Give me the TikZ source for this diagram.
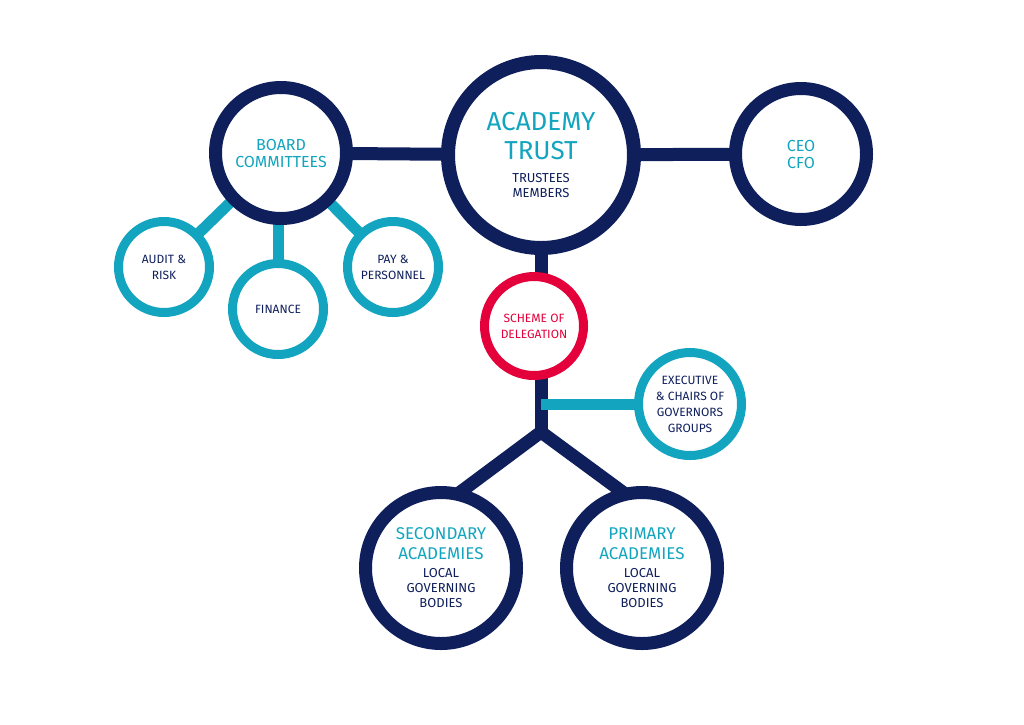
\documentclass[tikz,border=0pt]{standalone}
\usepackage{fontspec}
\setmainfont{Fira Sans}
\usetikzlibrary{backgrounds}
\definecolor{navy}{HTML}{0F1F5C}
\definecolor{teal}{HTML}{13A5BF}
\definecolor{red}{HTML}{E4003A}
\newcommand\bigt[2]{{\color{teal}\fontsize{#1}{#1}\selectfont #2}}
\newcommand\smt[1]{{\color{navy}\fontsize{13}{15}\selectfont #1}}
\tikzset{
 bub/.style n args={2}{circle,draw=navy,fill=white,line width=#2pt,inner sep=0pt,minimum size=#1pt,align=center,text=navy,font=\fontsize{13}{15}\selectfont},
 tbub/.style={circle,draw=teal,fill=white,line width=9pt,inner sep=0pt,minimum size=91pt,align=center,text=navy,font=\fontsize{12}{16}\selectfont},
 nl/.style={draw=navy,line width=13pt},
 tl/.style={draw=teal,line width=11pt},
}
\begin{document}
\begin{tikzpicture}[x=1pt,y=-1pt]
\useasboundingbox (0,0) rectangle (1024,724);
\node[bub={186}{14}] (trust) at (541,155) {\bigt{26}{ACADEMY}\\[10pt]\bigt{26}{TRUST}\\[8pt]\smt{TRUSTEES}\\\smt{MEMBERS}};
\node[bub={131}{13}] (board) at (281,153) {\bigt{16}{BOARD}\\[2pt]\bigt{16}{COMMITTEES}};
\node[bub={131}{13}] (ceo) at (801,154) {\bigt{16}{CEO}\\[2pt]\bigt{16}{CFO}};
\node[tbub] (audit) at (164,267) {AUDIT \&\\RISK};
\node[tbub] (fin) at (278,309) {FINANCE};
\node[tbub] (pay) at (393,267) {PAY \&\\PERSONNEL};
\node[tbub,draw=red,text=red,minimum size=99pt] (sod) at (534,326) {SCHEME OF\\DELEGATION};
\node[tbub,minimum size=103pt] (exec) at (690,404) {EXECUTIVE\\\& CHAIRS OF\\GOVERNORS\\GROUPS};
\node[bub={151}{13}] (sec) at (441,568) {\bigt{17}{SECONDARY}\\[5pt]\bigt{17}{ACADEMIES}\\[3pt]\smt{LOCAL}\\\smt{GOVERNING}\\\smt{BODIES}};
\node[bub={151}{13}] (pri) at (642,568) {\bigt{17}{PRIMARY}\\[5pt]\bigt{17}{ACADEMIES}\\[3pt]\smt{LOCAL}\\\smt{GOVERNING}\\\smt{BODIES}};
\coordinate (j) at (541,432);
\coordinate (e) at (541,404);
\coordinate (ps) at (455,496);
\coordinate (pp) at (628,496);
\begin{pgfonlayer}{background}
\draw[nl] (board.center) -- (trust.center) -- (ceo.center);
\draw[nl] (trust.center) -- (trust.center |- j);
\draw[tl] (e) -- (exec.center);
\draw[tl] (board.center) -- (audit.center);
\draw[tl] (board.center -| fin.center) -- (fin.center);
\draw[tl] (board.center) -- (pay.center);
\draw[nl] (ps) -- (j) -- (pp);
\end{pgfonlayer}
\end{tikzpicture}
\end{document}
